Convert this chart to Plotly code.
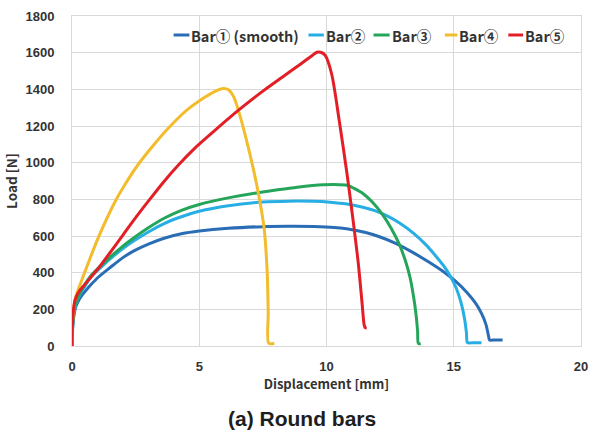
import plotly.graph_objects as go

# ---------------- data ----------------
# Bar① (smooth)
x1 = [0, 0.03, 0.08, 0.15, 0.3, 0.5, 0.75, 1.03, 1.5, 2.0, 2.45, 3.0, 3.62, 4.3, 5.0, 6.14, 7.49, 8.5,
      9.5, 10.3, 10.79, 11.5, 12.08, 12.72, 13.37, 14.02, 14.6, 15.1, 15.5, 15.85, 16.1, 16.27, 16.36, 16.41, 16.6, 16.92]
y1 = [0, 110, 170, 215, 258, 295, 335, 375, 428, 482, 520, 556, 588, 612, 627, 642, 651, 653,
      652, 647, 639, 620, 596, 560, 512, 458, 405, 350, 295, 235, 175, 115, 60, 33, 33, 33]
# Bar②
x2 = [0, 0.03, 0.08, 0.15, 0.3, 0.5, 0.75, 1.03, 1.5, 2.0, 2.45, 3.0, 3.62, 4.3, 5.0, 6.14, 7.49, 8.5,
      9.5, 10.14, 10.8, 11.43, 11.9, 12.4, 12.9, 13.4, 13.9, 14.3, 14.6, 14.85, 15.1, 15.3, 15.43, 15.5, 15.54, 15.75, 16.09]
y2 = [0, 120, 185, 228, 278, 325, 378, 415, 475, 532, 575, 622, 668, 705, 735, 765, 785, 790,
      789, 784, 774, 757, 738, 708, 668, 617, 553, 490, 438, 385, 315, 230, 145, 70, 18, 18, 18]
# Bar③
x3 = [0, 0.03, 0.08, 0.15, 0.3, 0.5, 0.75, 1.03, 1.5, 2.0, 2.45, 3.0, 3.62, 4.3, 5.0, 6.14, 7.49, 8.08,
      8.85, 9.88, 10.5, 10.85, 11.05, 11.43, 11.8, 12.21, 12.55, 12.85, 13.1, 13.28, 13.42, 13.52, 13.58, 13.61, 13.7]
y3 = [0, 125, 190, 235, 285, 335, 385, 425, 485, 545, 592, 645, 697, 740, 772, 808, 840, 852,
      866, 879, 880, 876, 862, 832, 785, 715, 640, 558, 465, 375, 270, 170, 80, 14, 14]
# Bar④
x4 = [0, 0.02, 0.06, 0.15, 0.4, 0.7, 1.0, 1.35, 1.7, 2.1, 2.6, 3.2, 3.8, 4.5, 5.2, 5.6, 5.95, 6.15,
      6.35, 6.55, 6.95, 7.3, 7.55, 7.67, 7.71, 7.73, 7.95]
y4 = [0, 120, 200, 270, 365, 475, 580, 690, 790, 885, 990, 1095, 1190, 1285, 1355, 1388, 1405, 1398,
      1360, 1280, 1070, 850, 640, 400, 180, 15, 15]
# Bar⑤
x5 = [0, 0.02, 0.06, 0.13, 0.25, 0.5, 0.8, 1.1, 1.5, 2.0, 2.5, 3.0, 3.6, 4.2, 4.8, 5.4, 6.1, 6.8,
      7.5, 8.3, 9.0, 9.4, 9.62, 9.8, 9.95, 10.2, 10.5, 10.8, 11.05, 11.25, 11.4, 11.48, 11.52, 11.58]
y5 = [0, 120, 200, 255, 292, 335, 385, 435, 510, 605, 700, 790, 895, 990, 1075, 1150, 1235, 1315,
      1390, 1470, 1540, 1580, 1602, 1601, 1585, 1485, 1230, 945, 680, 450, 230, 115, 100, 98]

names = ["Bar① (smooth)", "Bar②", "Bar③", "Bar④", "Bar⑤"]
colors = ["#2A6DB5", "#27AEE5", "#25A55A", "#F2BC2C", "#E21F27"]
xs = [x1, x2, x3, x4, x5]
ys = [y1, y2, y3, y4, y5]

x_ticks = [0, 5, 10, 15, 20]
y_ticks = [0, 200, 400, 600, 800, 1000, 1200, 1400, 1600, 1800]

x_title = "Displacement [mm]"
y_title = "Load [N]"
caption = "(a) Round bars"

# ---------------- figure ----------------
W, H = 594, 432
ML, MR, MT, MB = 72, 6, 16, 86
PW, PH = W - ML - MR, H - MT - MB

cjk = "Noto Sans CJK JP, Noto Sans, sans-serif"
arial = "Liberation Sans, Arial, sans-serif"
txt = "#333333"

fig = go.Figure()
for n, c, x, y in zip(names, colors, xs, ys):
    fig.add_trace(go.Scatter(x=x, y=y, mode="lines", name=n, showlegend=False,
                             line=dict(color=c, width=3, shape="spline", smoothing=0.8)))

fig.update_layout(
    width=W, height=H,
    margin=dict(l=ML, r=MR, t=MT, b=MB, pad=0),
    paper_bgcolor="white", plot_bgcolor="white",
    font=dict(family=cjk, color=txt, size=13),
    xaxis=dict(range=[0, 20], tickvals=x_ticks, showgrid=True, gridcolor="#D9D9D9",
               gridwidth=1, zeroline=False, showline=True, linecolor="#D9D9D9", mirror=True,
               ticks="", ticklabelstandoff=8, ticklabeloverflow="allow",
               tickfont=dict(size=13, color=txt, family=arial, weight="bold"),
               title=dict(text=x_title, standoff=4,
                          font=dict(size=13, color=txt, family=cjk, weight="bold"))),
    yaxis=dict(range=[0, 1800], tickvals=y_ticks, showgrid=True, gridcolor="#D9D9D9",
               gridwidth=1, zeroline=False, showline=True, linecolor="#D9D9D9", mirror=True,
               ticks="", ticklabelstandoff=14, ticklabeloverflow="allow",
               tickfont=dict(size=13, color=txt, family=arial, weight="bold"),
               title=dict(text=y_title, standoff=4,
                          font=dict(size=13.5, color=txt, family=cjk, weight="bold"))),
)

# legend drawn as short line + label inside the top of the plot area
leg_line_px = [175, 311.7, 377.7, 450, 514.3]
leg_text_px = [191, 327.3, 394, 462.7, 529.3]
leg_y = (MT + PH - 35) / PH
for n, c, lx, tx in zip(names, colors, leg_line_px, leg_text_px):
    fig.add_shape(type="line", xref="paper", yref="paper",
                  x0=(lx - ML) / PW, x1=(tx - ML) / PW, y0=leg_y, y1=leg_y,
                  line=dict(color=c, width=3))
    fig.add_annotation(text=n, x=(tx - ML) / PW, y=leg_y, xref="paper", yref="paper",
                       xanchor="left", yanchor="middle", showarrow=False,
                       font=dict(size=14.5, color=txt, family=cjk, weight="bold"))

fig.add_annotation(text=caption, x=(305.5 - ML) / PW, y=(MT + PH - 418) / PH,
                   xref="paper", yref="paper",
                   xanchor="center", yanchor="middle", showarrow=False,
                   font=dict(size=21, color="#1E1E1E", family=arial, weight="bold"))

fig.write_html("out.html")
